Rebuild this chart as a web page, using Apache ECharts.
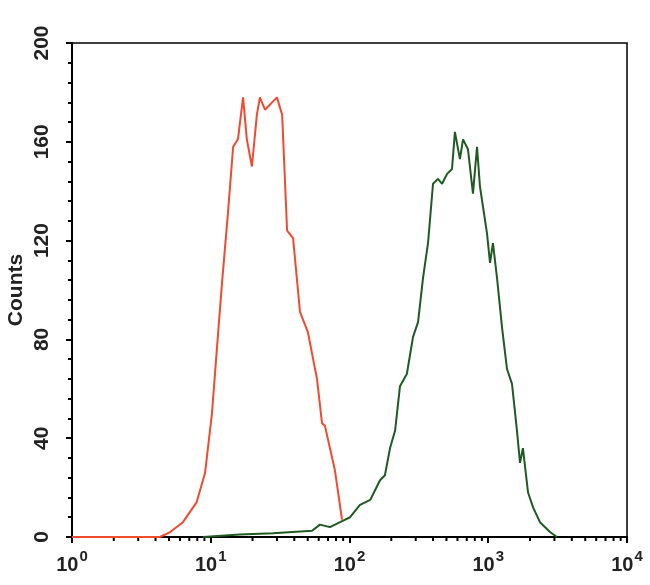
<!DOCTYPE html>
<html>
<head>
<meta charset="utf-8">
<script src="https://cdn.jsdelivr.net/npm/echarts@6/dist/echarts.min.js"></script>
<style>html,body{margin:0;padding:0;background:#fff}#c{width:650px;height:585px}</style>
</head>
<body>
<div id="c"></div>
<script>
// Red (control) histogram: fluorescence, counts
const redX = [1, 3.65, 4.3, 5.1, 6.3, 7.9, 9.1, 10.2, 11.1, 12.1, 13.3, 14.5, 15.7, 17.1, 18.2, 19.8, 21.5, 22.6, 24.6, 30.0, 32.7, 35.5, 39.2, 44.0, 50.1, 58.3, 63.4, 66.5, 78.5, 88.3];
const redY = [0, 0, 0, 2, 6, 14, 26, 50, 77, 104, 131, 158, 161, 178, 161, 150, 171, 178, 173, 178, 171, 124, 121, 91, 83, 64, 46, 45, 27, 7];
// Green (stained) histogram
const greenX = [8.8, 16.2, 28.1, 53.7, 61.2, 72.3, 85.5, 101, 119, 141, 166, 180, 196, 213, 231, 259, 287, 312, 339, 368, 400, 434, 465, 505, 548, 575, 625, 658, 714, 776, 830, 871, 979, 1030, 1081, 1156, 1256, 1365, 1483, 1611, 1694, 1778, 1936, 2104, 2360, 2786, 3126];
const greenY = [0, 1, 1.5, 2.5, 5, 4, 6, 8, 13, 15, 23, 25, 36, 43, 61, 66, 81, 87, 105, 119, 143, 145, 143, 147, 149, 164, 153, 161, 157, 139, 158, 142, 123, 111, 119, 105, 85, 68, 62, 43, 30, 36, 18, 12, 6, 2, 0];
// Axis ticks
const xMajor = [1, 10, 100, 1000, 10000];
const xMinorMult = [2, 3, 4, 5, 6, 7, 8, 9];
const yTicks = [0, 40, 80, 120, 160, 200];
const yLabel = 'Counts';

const xMinor = [];
for (let i = 0; i < xMajor.length - 1; i++) {
  for (const m of xMinorMult) xMinor.push([xMajor[i] * m, 0]);
}
const zip = (a, b) => a.map((v, i) => [v, b[i]]);
const FONT = 'Liberation Sans, Arial, sans-serif';

const chart = echarts.init(document.getElementById('c'));
chart.setOption({
  animation: false,
  backgroundColor: '#fff',
  grid: { left: 72, right: 23, top: 43, bottom: 48, containLabel: false, outerBoundsMode: 'none', show: true, borderColor: '#000', borderWidth: 1.5, backgroundColor: 'transparent' },
  xAxis: {
    type: 'log', logBase: 10, min: xMajor[0], max: xMajor[xMajor.length - 1],
    axisLine: { show: true, onZero: false, lineStyle: { color: '#000', width: 2 } },
    axisTick: { show: true, inside: false, length: 6, lineStyle: { color: '#000', width: 2 } },
    splitLine: { show: false },
    axisLabel: {
      margin: 12, color: '#222',
      formatter: v => '{b|10}{s|' + Math.round(Math.log10(v)) + '}',
      rich: {
        b: { fontFamily: FONT, fontWeight: 'bold', fontSize: 20, color: '#222', verticalAlign: 'bottom', lineHeight: 26 },
        s: { fontFamily: FONT, fontWeight: 'bold', fontSize: 15, color: '#222', verticalAlign: 'bottom', lineHeight: 26, padding: [0, 0, 11, 1] }
      }
    }
  },
  yAxis: {
    type: 'value', min: yTicks[0], max: yTicks[yTicks.length - 1], interval: 40,
    name: yLabel, nameLocation: 'middle', nameGap: 45, nameRotate: 90, nameMoveOverlap: false,
    nameTextStyle: { fontFamily: FONT, fontWeight: 'bold', fontSize: 21, color: '#222' },
    axisLine: { show: true, lineStyle: { color: '#000', width: 2 } },
    axisTick: { show: true, length: 6, lineStyle: { color: '#000', width: 2 } },
    minorTick: { show: true, splitNumber: 5, length: 4, lineStyle: { color: '#000', width: 2 } },
    splitLine: { show: false },
    minorSplitLine: { show: false },
    axisLabel: { rotate: 90, margin: 19, color: '#222', fontFamily: FONT, fontWeight: 'bold', fontSize: 21 }
  },
  series: [
    {
      type: 'custom', data: xMinor, silent: true, clip: false, z: 1,
      renderItem: (params, api) => {
        const p = api.coord([api.value(0), 0]);
        return { type: 'line', shape: { x1: p[0], y1: p[1], x2: p[0], y2: p[1] + 4 }, style: { stroke: '#000', lineWidth: 2 } };
      }
    },
    {
      type: 'line', data: zip(greenX, greenY), showSymbol: false, z: 3,
      lineStyle: { color: '#1f5a22', width: 2 }
    },
    {
      type: 'line', data: zip(redX, redY), showSymbol: false, z: 4,
      lineStyle: { color: '#f04a30', width: 2 }
    }
  ]
});
</script>
</body>
</html>
